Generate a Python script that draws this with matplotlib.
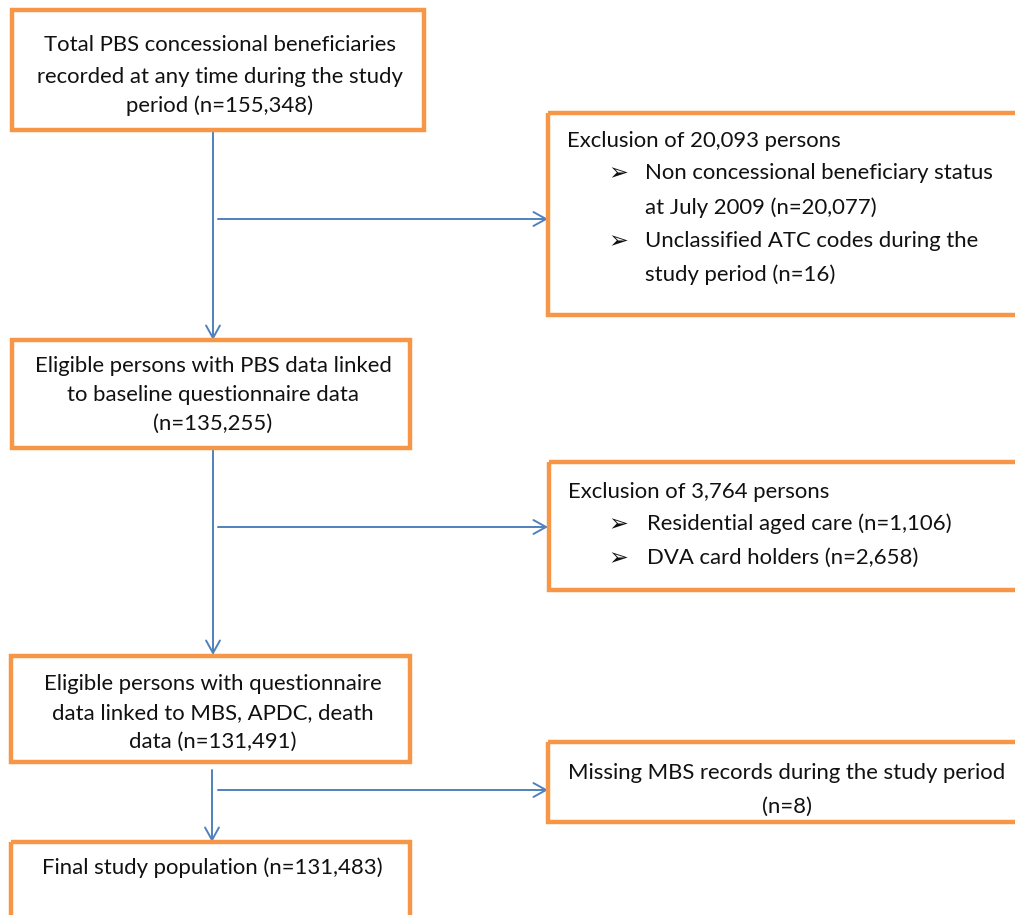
import matplotlib
matplotlib.use("Agg")
import matplotlib.pyplot as plt
from matplotlib.patches import Rectangle, FancyArrowPatch

plt.rcParams['font.family'] = ['Lato', 'DejaVu Sans']

W, H = 1015, 915
ORANGE = '#F79646'
BLUE = '#4F81BD'
FS = 15.9
TC = '#111111'

# Box texts
main_boxes = [
    ["Total PBS concessional beneficiaries", "recorded at any time during the study", "period (n=155,348)"],
    ["Eligible persons with PBS data linked", "to baseline questionnaire data", "(n=135,255)"],
    ["Eligible persons with questionnaire", "data linked to MBS, APDC, death", "data (n=131,491)"],
    ["Final study population (n=131,483)"],
]
excl1_title = "Exclusion of 20,093 persons"
excl1_items = [["Non concessional beneficiary status", "at July 2009 (n=20,077)"],
               ["Unclassified ATC codes during the", "study period (n=16)"]]
excl2_title = "Exclusion of 3,764 persons"
excl2_items = [["Residential aged care (n=1,106)"], ["DVA card holders (n=2,658)"]]
excl3_lines = ["Missing MBS records during the study period", "(n=8)"]

fig = plt.figure(figsize=(W / 100, H / 100), dpi=100)
ax = fig.add_axes([0, 0, 1, 1])
ax.set_xlim(0, W)
ax.set_ylim(H, 0)
ax.axis('off')


def box(x0, y0, x1, y1):
    fill = Rectangle((x0, y0), x1 - x0, y1 - y0, facecolor='white', edgecolor='none', zorder=1)
    ax.add_patch(fill)
    r = Rectangle((x0, y0), x1 - x0, y1 - y0, facecolor='none', edgecolor=ORANGE,
                  linewidth=3.2, zorder=5)
    ax.add_patch(r)
    return fill


def arrow(x0, y0, x1, y1):
    a = FancyArrowPatch((x0, y0), (x1, y1), arrowstyle='->,head_length=9,head_width=5',
                        color=BLUE, linewidth=1.4, mutation_scale=1, shrinkA=0, shrinkB=0, zorder=2)
    ax.add_patch(a)


def bullet(x, y):
    ax.text(x, y, "\u27a2", ha='left', va='center', fontsize=17, fontweight='bold',
            color=TC, zorder=4, family='DejaVu Sans')


# main boxes
main_geo = [(12, 10, 424, 130), (12, 340, 410, 448), (11, 656, 410, 762), (11, 842, 410, 925)]
main_text_y = [[45, 77, 106], [366, 395, 424], [684, 713, 742], [868]]
for (x0, y0, x1, y1), lines, ys in zip(main_geo, main_boxes, main_text_y):
    box(x0, y0, x1, y1)
    cx = (x0 + x1) / 2 + 2
    for t, y in zip(lines, ys):
        ax.text(cx, y, t, ha='center', va='center', fontsize=FS, color=TC, zorder=4)

# exclusion box 1
box(548, 113, 1025, 315)
ax.text(567, 141, excl1_title, ha='left', va='center', fontsize=FS, color=TC, zorder=4)
ys1 = [[173, 208], [241, 275]]
for item, ys in zip(excl1_items, ys1):
    bullet(608, ys[0])
    for t, y in zip(item, ys):
        ax.text(645, y, t, ha='left', va='center', fontsize=FS, color=TC, zorder=4)

# exclusion box 2
box(549, 462, 1025, 590)
ax.text(568, 492, excl2_title, ha='left', va='center', fontsize=FS, color=TC, zorder=4)
for item, y in zip(excl2_items, [524, 558]):
    bullet(608, y)
    ax.text(647, y, item[0], ha='left', va='center', fontsize=FS, color=TC, zorder=4)

# exclusion box 3
box(548, 742, 1025, 822)
clip3 = Rectangle((548, 742), 477, 73, facecolor='none', edgecolor='none')
ax.add_patch(clip3)
for t, y in zip(excl3_lines, [773, 807]):
    tx = ax.text(787, y, t, ha='center', va='center', fontsize=FS, color=TC, zorder=4)
    tx.set_clip_path(clip3)

# arrows
arrow(213, 130, 213, 340)
arrow(218, 219, 548, 219)
arrow(213, 450, 213, 655)
arrow(218, 527, 548, 527)
arrow(212, 770, 212, 842)
arrow(218, 790, 548, 790)

fig.savefig('out.png', dpi=100, facecolor='white')
